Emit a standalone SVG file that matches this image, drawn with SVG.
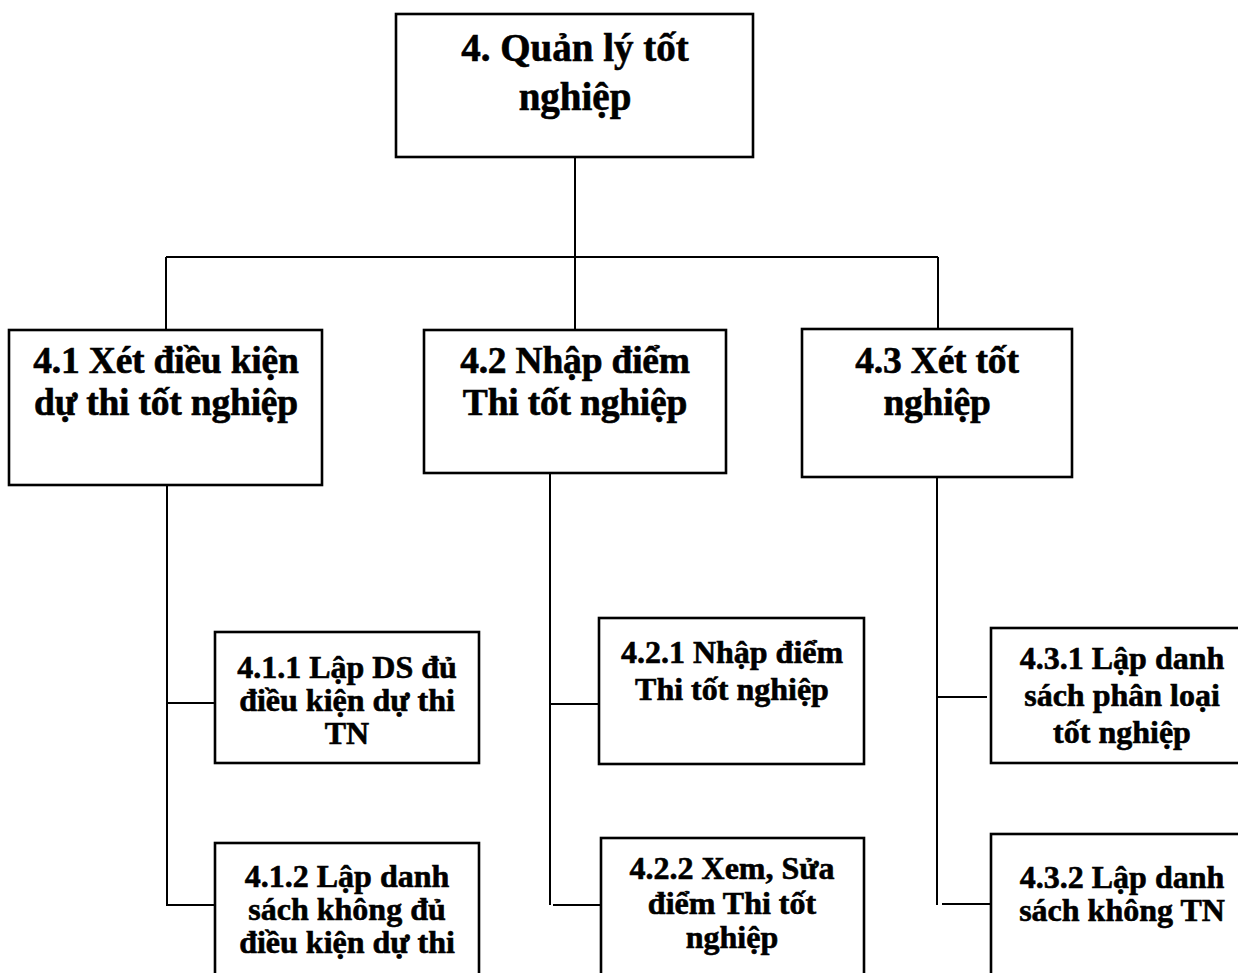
<svg xmlns="http://www.w3.org/2000/svg" width="1238" height="973" viewBox="0 0 1238 973">
  <style>
    .box { fill: #ffffff; stroke: #000000; stroke-width: 2.6; }
    .link { fill: none; stroke: #000000; stroke-width: 2; }
    text { font-family: "Liberation Serif", "Times New Roman", serif; font-weight: bold; fill: #000000; stroke: #000000; stroke-width: 0.6; text-anchor: middle; }
    .t1 { font-size: 39px; }
    .t2 { font-size: 37.5px; letter-spacing: -0.2px; }
    .t3 { font-size: 32px; }
  </style>
  <rect x="0" y="0" width="1238" height="973" fill="#ffffff"/>

  <g id="connectors">
    <path class="link" d="M575,157 V330"/>
    <path class="link" d="M166,257 H938"/>
    <path class="link" d="M166,257 V330"/>
    <path class="link" d="M938,257 V329"/>
    <path class="link" d="M167,485 V905 H215"/>
    <path class="link" d="M167,703 H215"/>
    <path class="link" d="M550,473 V905"/>
    <path class="link" d="M550,704 H599"/>
    <path class="link" d="M553,905 H601"/>
    <path class="link" d="M937,477 V905"/>
    <path class="link" d="M937,697 H987"/>
    <path class="link" d="M942,904 H991"/>
  </g>

  <g id="n4">
    <rect class="box" x="396" y="14" width="357" height="143"/>
    <text class="t1" x="575" y="61">4. Quản lý tốt</text>
    <text class="t1" x="575" y="110">nghiệp</text>
  </g>

  <g id="n4-1">
    <rect class="box" x="9" y="330" width="313" height="155"/>
    <text class="t2" x="166" y="373">4.1 Xét điều kiện</text>
    <text class="t2" x="166" y="415">dự thi tốt nghiệp</text>
  </g>

  <g id="n4-2">
    <rect class="box" x="424" y="330" width="302" height="143"/>
    <text class="t2" x="575" y="373">4.2 Nhập điểm</text>
    <text class="t2" x="575" y="415">Thi tốt nghiệp</text>
  </g>

  <g id="n4-3">
    <rect class="box" x="802" y="329" width="270" height="148"/>
    <text class="t2" x="937" y="373">4.3 Xét tốt</text>
    <text class="t2" x="937" y="415">nghiệp</text>
  </g>

  <g id="n4-1-1">
    <rect class="box" x="215" y="632" width="264" height="131"/>
    <text class="t3" x="347" y="678">4.1.1 Lập DS đủ</text>
    <text class="t3" x="347" y="711">điều kiện dự thi</text>
    <text class="t3" x="347" y="744">TN</text>
  </g>

  <g id="n4-1-2">
    <rect class="box" x="215" y="843" width="264" height="150"/>
    <text class="t3" x="347" y="887">4.1.2 Lập danh</text>
    <text class="t3" x="347" y="920">sách không đủ</text>
    <text class="t3" x="347" y="953">điều kiện dự thi</text>
  </g>

  <g id="n4-2-1">
    <rect class="box" x="599" y="618" width="265" height="146"/>
    <text class="t3" x="732" y="663">4.2.1 Nhập điểm</text>
    <text class="t3" x="732" y="700">Thi tốt nghiệp</text>
  </g>

  <g id="n4-2-2">
    <rect class="box" x="601" y="838" width="263" height="155"/>
    <text class="t3" x="732" y="879">4.2.2 Xem, Sửa</text>
    <text class="t3" x="732" y="914">điểm Thi tốt</text>
    <text class="t3" x="732" y="948">nghiệp</text>
  </g>

  <g id="n4-3-1">
    <rect class="box" x="991" y="628" width="262" height="135"/>
    <text class="t3" x="1122" y="669">4.3.1 Lập danh</text>
    <text class="t3" x="1122" y="706">sách phân loại</text>
    <text class="t3" x="1122" y="743">tốt nghiệp</text>
  </g>

  <g id="n4-3-2">
    <rect class="box" x="991" y="834" width="262" height="160"/>
    <text class="t3" x="1122" y="888">4.3.2 Lập danh</text>
    <text class="t3" x="1122" y="921">sách không TN</text>
  </g>
</svg>
